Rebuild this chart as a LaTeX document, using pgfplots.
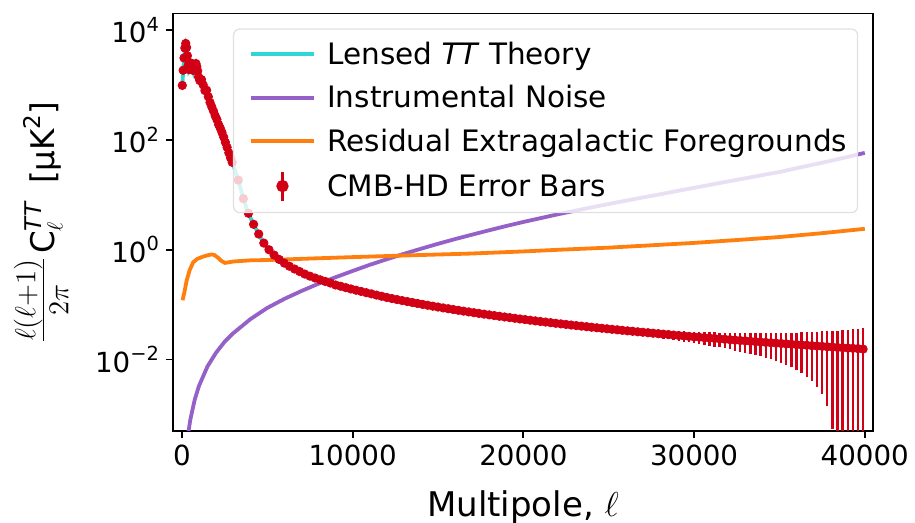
\documentclass[border=0pt]{standalone}
\usepackage{fontspec}
\setmainfont{DejaVu Sans}
\usepackage{pgfplots}
\pgfplotsset{compat=1.18}
\usepackage{pgfplotstable}
\definecolor{thcyan}{HTML}{30D5D5}
\definecolor{nzpurple}{HTML}{9560C8}
\definecolor{fgorange}{HTML}{FF7F0E}
\definecolor{hdred}{HTML}{D20014}
\newcommand{\tickfont}{\fontsize{13.85}{16}\selectfont}
\newcommand{\legfont}{\fontsize{14.75}{17}\selectfont}
\newcommand{\sups}[1]{\raisebox{0.42em}{\fontsize{9.7}{11}\selectfont #1}}
\newcommand{\supsb}[1]{\raisebox{0.42em}{\fontsize{11.5}{13}\selectfont #1}}

\pgfplotstableread{
l d
2 1000
10 850
30 1000
60 1500
100 2300
150 3900
200 5400
220 5700
250 5400
300 4100
350 2700
410 1900
470 2100
540 2550
600 2350
680 1800
750 2150
820 2450
900 2000
1000 1250
1100 1200
1160 1250
1250 1000
1330 800
1420 830
1500 700
1600 520
1700 440
1800 370
1900 300
2000 250
2200 175
2400 125
2600 80
2800 52
3000 36
3200 23
3400 14.5
3600 8.5
3800 5.5
4000 3.9
4200 2.9
4400 2.2
4600 1.68
4800 1.32
5000 1.08
5200 0.93
5400 0.80
5600 0.70
5800 0.63
6000 0.57
6500 0.47
7000 0.39
7500 0.33
8000 0.29
8500 0.258
9000 0.228
9500 0.208
10000 0.19
10500 0.174
11000 0.16
11500 0.147
12000 0.135
13000 0.117
14000 0.1023
15000 0.0904
16000 0.0804
18000 0.0651
20000 0.0537
22000 0.0453
24000 0.0388
26000 0.0336
28000 0.0294
30000 0.0259
32000 0.0231
34000 0.0207
36000 0.0187
38000 0.01695
40000 0.01546
}\theory

\pgfplotstableread{
l n
300 0.0003
370 0.00045
500 0.00082
750 0.00185
1000 0.0033
1500 0.0075
2000 0.0133
2500 0.021
3000 0.030
4000 0.054
5000 0.087
6000 0.127
7000 0.177
8000 0.24
9000 0.315
10000 0.41
11000 0.53
12000 0.67
13000 0.84
14000 1.04
15000 1.28
16000 1.56
17000 1.88
18000 2.26
19000 2.70
20000 3.2
21000 3.75
22000 4.4
23000 5.1
24000 5.9
25000 6.8
26000 7.8
27000 8.95
28000 10.2
29000 11.7
30000 13.4
31000 15.3
32000 17.5
33000 20.0
34000 22.8
35000 26.0
36000 30.5
37000 35.5
38000 41.5
39000 49
40000 58
}\noise

\pgfplotstableread{
l f
40 0.12
150 0.17
275 0.27
450 0.42
662 0.59
900 0.68
1250 0.75
1500 0.79
1730 0.82
1900 0.80
2130 0.71
2300 0.63
2520 0.575
2750 0.59
3010 0.61
4000 0.64
5160 0.65
7500 0.69
9850 0.73
12780 0.78
16880 0.85
20000 0.93
22160 1.0
25000 1.09
27430 1.2
30000 1.33
32500 1.5
35000 1.7
37500 2.0
40000 2.4
}\fg

\pgfplotstableread{
l d ep em
25 980 60 60
75 1850 60 60
125 3100 70 70
175 4700 80 80
225 5700 80 80
275 4800 60 60
325 3400 45 45
375 2300 30 30
425 1900 25 25
475 2120 25 25
525 2500 25 25
575 2450 25 25
625 2180 20 20
675 1830 18 18
725 2000 18 18
775 2300 20 20
825 2450 20 20
875 2150 18 18
925 1800 15 15
975 1400 12 12
1050 1200 8 8
1150 1250 8 8
1250 1000 6 6
1350 790 5 5
1450 800 5 5
1550 610 4 4
1650 480 3 3
1750 400 2.5 2.5
1850 335 2 2
1950 275 1.6 1.6
2050 235 1.3 1.3
2150 190 1 1
2250 163 0.9 0.9
2350 136 0.7 0.7
2450 112 0.6 0.6
2550 90 0.5 0.5
2650 73 0.4 0.4
2750 58 0.3 0.3
2850 47 0.25 0.25
2950 39 0.2 0.2
3300 18.5 0.1 0.1
3600 8.5 0.05 0.05
3900 4.6 0.03 0.03
4200 2.9 0.02 0.02
4500 1.93 0.012 0.012
4800 1.32 0.008 0.008
5100 1.0 0.006 0.006
5400 0.80 0.005 0.005
5700 0.665 0.004 0.004
6000 0.57 0.003 0.003
6300 0.50 0.0025 0.0025
6600 0.445 0.002 0.002
6900 0.40 0.002 0.002
7200 0.36 0.0018 0.0018
7500 0.33 0.0017 0.0017
7800 0.305 0.0016 0.0016
8100 0.283 0.0015 0.0015
8400 0.264 0.0014 0.0014
8700 0.247 0.0013 0.0013
9000 0.228 0.0012 0.0012
9300 0.216 0.0012 0.0012
9600 0.204 0.0011 0.0011
9900 0.193 0.0011 0.0011
10200 0.183 0.0011 0.0011
10500 0.174 0.0011 0.0011
10800 0.165 0.0011 0.0011
11100 0.157 0.0011 0.0011
11400 0.149 0.0011 0.0011
11700 0.142 0.0011 0.0011
12000 0.135 0.00104 0.00104
12300 0.1292 0.00106 0.00106
12600 0.1237 0.00108 0.00108
12900 0.1185 0.0011 0.0011
13200 0.1138 0.00112 0.00112
13500 0.1092 0.00114 0.00114
13800 0.1050 0.00116 0.00116
14100 0.1010 0.00118 0.00118
14400 0.0973 0.00121 0.00121
14700 0.0937 0.00125 0.00125
15000 0.0904 0.00129 0.00129
15300 0.0872 0.00133 0.00133
15600 0.0842 0.00136 0.00136
15900 0.0814 0.00140 0.00140
16200 0.0787 0.00144 0.00144
16500 0.0761 0.00148 0.00148
16800 0.0737 0.00152 0.00152
17100 0.0714 0.00157 0.00157
17400 0.0692 0.00161 0.00161
17700 0.0671 0.00166 0.00166
18000 0.0651 0.00171 0.00171
18300 0.0632 0.00177 0.00177
18600 0.0614 0.00183 0.00183
18900 0.0596 0.00189 0.00189
19200 0.0580 0.00195 0.00195
19500 0.0564 0.00202 0.00202
19800 0.0548 0.00209 0.00209
20100 0.0534 0.00215 0.00215
20400 0.0520 0.00222 0.00222
20700 0.0506 0.00229 0.00229
21000 0.0493 0.00236 0.00236
21300 0.0481 0.00244 0.00244
21600 0.0469 0.00253 0.00253
21900 0.0457 0.00261 0.00261
22200 0.0446 0.00270 0.00270
22500 0.0436 0.00278 0.00278
22800 0.0425 0.00286 0.00286
23100 0.0415 0.00295 0.00295
23400 0.0406 0.00305 0.00305
23700 0.0397 0.00315 0.00315
24000 0.0388 0.00325 0.00325
24300 0.0379 0.00336 0.00336
24600 0.0371 0.00347 0.00347
24900 0.0363 0.00357 0.00357
25200 0.0355 0.00369 0.00369
25500 0.0348 0.00381 0.00381
25800 0.0340 0.00392 0.00392
26100 0.0333 0.00405 0.00405
26400 0.0327 0.00418 0.00418
26700 0.0320 0.00432 0.00432
27000 0.0314 0.00445 0.00445
27300 0.0308 0.00459 0.00459
27600 0.0302 0.00474 0.00474
27900 0.0296 0.00488 0.00488
28200 0.0290 0.00504 0.00504
28500 0.0285 0.00521 0.00521
28800 0.0279 0.00538 0.00538
29100 0.0274 0.00555 0.00555
29400 0.0269 0.00575 0.00575
29700 0.0264 0.00594 0.00594
30000 0.0259 0.00613 0.00613
30300 0.0255 0.00634 0.00634
30600 0.0250 0.00655 0.00655
30900 0.0246 0.00676 0.00676
31200 0.0242 0.00699 0.00699
31500 0.0238 0.00723 0.00723
31800 0.0234 0.00747 0.00747
32100 0.0230 0.00772 0.00772
32400 0.0226 0.00799 0.00799
32700 0.0222 0.00826 0.00826
33000 0.0219 0.00853 0.00853
33300 0.0215 0.00883 0.00883
33600 0.0212 0.00913 0.00913
33900 0.0208 0.00943 0.00943
34200 0.0205 0.00975 0.00975
34500 0.0202 0.01009 0.01009
34800 0.0199 0.01043 0.01043
35100 0.0196 0.01081 0.01081
35400 0.0193 0.01129 0.01129
35700 0.0190 0.01178 0.01178
36000 0.0187 0.01226 0.01226
36300 0.0184 0.01278 0.01278
36600 0.0182 0.01330 0.01330
36900 0.0179 0.01383 0.01383
37200 0.0176 0.01442 0.01442
37500 0.0174 0.01505 0.01505
37800 0.0171 0.01568 0.01568
38100 0.0169 0.01635 0.01635
38400 0.0166 0.01710 0.0165
38700 0.0164 0.01785 0.0163
39000 0.0162 0.01860 0.0161
39300 0.0160 0.01953 0.0159
39600 0.0158 0.02046 0.0157
39900 0.0155 0.02139 0.0154
}\hd

\begin{document}
\begin{tikzpicture}
\begin{axis}[
  at={(0,0)}, anchor=south west,
  scale only axis, width=350pt, height=208.75pt,
  ymode=log,
  xmin=-520, xmax=40480, ymin=5e-4, ymax=2e4,
  axis line style={line width=0.9pt},
  every tick/.style={black, line width=0.9pt},
  major tick length=3.5pt, tick align=outside, tick pos=left,
  xtick={0,10000,20000,30000,40000},
  scaled x ticks=false,
  xticklabel style={font=\tickfont, /pgf/number format/1000 sep={}, /pgf/number format/assume math mode=true},
  ytick={1e-2,1,1e2,1e4},
  yticklabels={10\sups{−2},10\sups{0},10\sups{2},10\sups{4}},
  yticklabel style={font=\tickfont},
  yminorticks=false, xminorticks=false,
  legend style={
    at={(axis description cs:0.0857,0.9641)}, anchor=north west,
    draw=black!12, line width=0.6pt, rounded corners=3pt,
    fill=white, fill opacity=0.8, text opacity=1, draw opacity=1,
    font=\legfont,
    inner xsep=5.2pt, inner ysep=5.4pt,
    row sep=7.35pt,
    nodes={inner sep=0pt, text height=12.2pt, text depth=2.2pt, anchor=west},
  },
  legend cell align=left,
  legend image code/.code={\draw[#1, opacity=1, line width=1.9pt] (3.35pt,0pt) -- (35pt,0pt); \path[draw=none] (0pt,0pt) -- (41.65pt,0pt);},
]
\addplot[thcyan, line width=1.9pt] table[x=l,y=d] {\theory};
\addlegendentry{Lensed \textit{TT} Theory}
\addplot[nzpurple, line width=1.9pt] table[x=l,y=n] {\noise};
\addlegendentry{Instrumental Noise}
\addplot[fgorange, line width=1.9pt] table[x=l,y=f] {\fg};
\addlegendentry{Residual Extragalactic Foregrounds}
\addplot[hdred, only marks, mark=*, mark size=2.1pt, mark options={draw=hdred, fill=hdred},
  legend image code/.code={\draw[hdred, opacity=1, line width=1.2pt] (19.25pt,-7.25pt) -- (19.25pt,7.25pt); \fill[hdred, opacity=1] (19.25pt,0pt) circle (2.8pt); \path[draw=none] (0pt,0pt) -- (41.65pt,0pt);},
  error bars/.cd, y dir=both, y explicit, error mark=none,
  error bar style={line width=1.2pt, hdred}]
  table[x=l, y=d, y error plus=ep, y error minus=em] {\hd};
\addlegendentry{CMB-HD Error Bars}
\end{axis}
\node[font=\fontsize{17}{20}\selectfont, anchor=base] at (175pt,-43pt) {Multipole, $\ell$};
\node[font=\fontsize{16.3}{19}\selectfont, rotate=90, anchor=center, inner sep=0pt] at (-66pt,104.25pt)
  {{\fontsize{20.5}{24}\selectfont$\frac{\ell(\ell+1)}{2\pi}$}\hspace{1.5pt}C${}_{\ell}^{\hbox{\fontsize{11.5}{13}\selectfont\itshape TT}}$\hspace{9pt}[μK\supsb{2}]};
\pgfresetboundingbox
\path[use as bounding box] (-86.5pt,-46pt) rectangle (371pt,215.5pt);
\end{tikzpicture}
\end{document}
